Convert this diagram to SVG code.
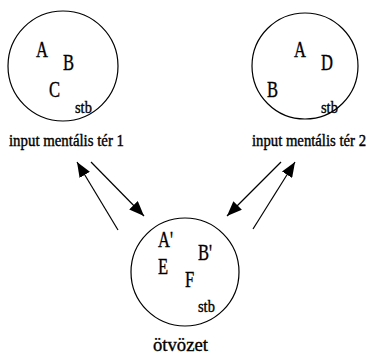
<svg xmlns="http://www.w3.org/2000/svg" width="370" height="355" viewBox="0 0 370 355">
<style>
  .c{fill:none;stroke:#000;stroke-width:1.2}
  .big{font-family:"Liberation Serif","Times New Roman",serif;font-size:23px;fill:#000;stroke:#000;stroke-width:0.4}
  .sm{font-family:"Liberation Serif","Times New Roman",serif;font-size:17px;fill:#000;stroke:#000;stroke-width:0.4}
  .lbl{font-family:"Liberation Serif","Times New Roman",serif;font-size:15px;fill:#000;stroke:#000;stroke-width:0.35}
  .ar{stroke:#000;stroke-width:1.2;fill:none;marker-end:url(#ah)}
</style>
<defs>
  <marker id="ah" markerUnits="userSpaceOnUse" markerWidth="16" markerHeight="12" refX="15" refY="6" orient="auto">
    <path d="M0,0 L15,6 L0,12 z" fill="#000"/>
  </marker>
</defs>
<g id="node1">
  <circle class="c" cx="63" cy="66" r="55"/>
  <text class="big" transform="translate(36,57) scale(0.72,1)">A</text>
  <text class="big" transform="translate(63,70) scale(0.72,1)">B</text>
  <text class="big" transform="translate(49,97) scale(0.72,1)">C</text>
  <text class="sm" transform="translate(75,113) scale(0.85,1)">stb</text>
  <text class="lbl" transform="translate(9,146) scale(1,1.13)" textLength="115" lengthAdjust="spacingAndGlyphs">input mentális tér 1</text>
</g>
<g id="node2">
  <circle class="c" cx="305" cy="66" r="53"/>
  <text class="big" transform="translate(294,57) scale(0.72,1)">A</text>
  <text class="big" transform="translate(321,70) scale(0.72,1)">D</text>
  <text class="big" transform="translate(267,97) scale(0.72,1)">B</text>
  <text class="sm" transform="translate(321,113) scale(0.85,1)">stb</text>
  <text class="lbl" transform="translate(252,146) scale(1,1.13)" textLength="114" lengthAdjust="spacingAndGlyphs">input mentális tér 2</text>
</g>
<g id="node3">
  <circle class="c" cx="185" cy="272" r="54"/>
  <text class="big" transform="translate(158,247) scale(0.72,1)">A'</text>
  <text class="big" transform="translate(198,260) scale(0.72,1)">B'</text>
  <text class="big" transform="translate(158,274) scale(0.72,1)">E</text>
  <text class="big" transform="translate(185,287) scale(0.72,1)">F</text>
  <text class="sm" transform="translate(198,312) scale(0.85,1)">stb</text>
  <text class="lbl" x="153" y="351" textLength="55" lengthAdjust="spacingAndGlyphs" style="font-size:19px">ötvözet</text>
</g>
<g id="connectors">
  <line class="ar" x1="118" y1="230" x2="77" y2="162"/>
  <line class="ar" x1="91" y1="162" x2="144" y2="216"/>
  <line class="ar" x1="281" y1="162" x2="227" y2="216"/>
  <line class="ar" x1="253" y1="229" x2="295" y2="162"/>
</g>
</svg>
